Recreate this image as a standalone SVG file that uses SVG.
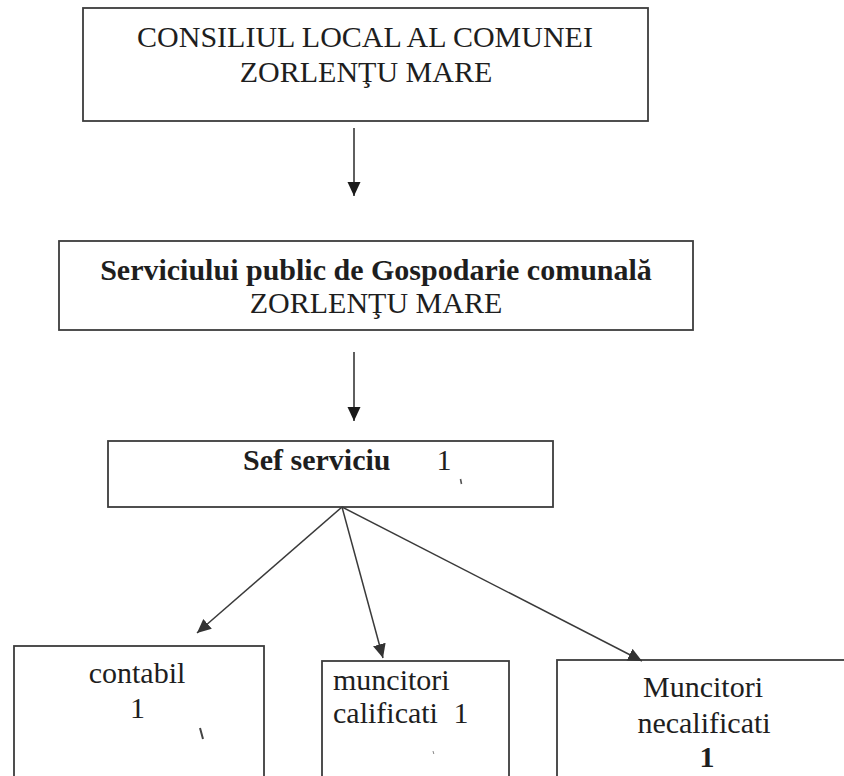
<svg xmlns="http://www.w3.org/2000/svg" width="844" height="776" viewBox="0 0 844 776">
<defs>
<style>
.box{fill:#fff;stroke:#3c3c3c;stroke-width:1.8}
.t{font-family:"Liberation Serif","Times New Roman",serif;font-size:30px;fill:#1e1e1e}
.b{font-weight:bold}
.m{text-anchor:middle}
.conn{stroke:#2a2a2a;stroke-width:1.5;fill:none}
.fine{stroke:#3a3a3a;stroke-width:1.5;fill:none}
</style>
<marker id="ah" markerUnits="userSpaceOnUse" markerWidth="15" markerHeight="14" refX="14" refY="6.5" orient="auto">
<path d="M0,0 L14,6.5 L0,13 z" fill="#1a1a1a"/>
</marker>
<marker id="ah2" markerUnits="userSpaceOnUse" markerWidth="15" markerHeight="14" refX="14" refY="6.5" orient="auto">
<path d="M0,0 L14,6.5 L0,13 z" fill="#333"/>
</marker>
</defs>
<rect width="844" height="776" fill="#fff"/>
<g id="consiliul">
<rect class="box" x="83" y="8" width="565" height="113"/>
<text class="t m" x="365" y="47">CONSILIUL LOCAL AL COMUNEI</text>
<text class="t m" x="366" y="82">ZORLENŢU MARE</text>
</g>
<g id="serviciul">
<rect class="box" x="59" y="241" width="634" height="89"/>
<text class="t m b" x="376" y="280">Serviciului public de Gospodarie comunală</text>
<text class="t m" x="376" y="313">ZORLENŢU MARE</text>
</g>
<g id="sef">
<rect class="box" x="108" y="441" width="445" height="66"/>
<text class="t b" x="243" y="470">Sef serviciu</text>
<text class="t m" x="444" y="470">1</text>
<path d="M460.5,479 l1,5" stroke="#555" stroke-width="1.6"/>
</g>
<g id="contabil">
<rect class="box" x="14" y="646" width="250" height="140"/>
<text class="t m" x="137" y="683">contabil</text>
<text class="t m" x="137.5" y="718">1</text>
<path d="M200,728 l3,11" stroke="#444" stroke-width="2"/>
</g>
<g id="calificati">
<rect class="box" x="322" y="661" width="187" height="125"/>
<text class="t" x="333" y="690">muncitori</text>
<text class="t" x="333" y="723" style="word-spacing:8px">calificati 1</text>
<path d="M433,751 l0.8,3" stroke="#888" stroke-width="1"/>
</g>
<g id="necalificati">
<rect class="box" x="557" y="660" width="300" height="126"/>
<text class="t m" x="703" y="697">Muncitori</text>
<text class="t m" x="704" y="733">necalificati</text>
<text class="t m b" x="707" y="767">1</text>
</g>
<g id="connectors">
<line class="conn" x1="354" y1="128" x2="354" y2="196" marker-end="url(#ah)"/>
<line class="conn" x1="354" y1="352" x2="354" y2="421" marker-end="url(#ah)"/>
<line class="fine" x1="342" y1="507" x2="197" y2="633" marker-end="url(#ah2)"/>
<line class="fine" x1="342" y1="507" x2="383" y2="658" marker-end="url(#ah2)"/>
<line class="fine" x1="342" y1="507" x2="642" y2="661" marker-end="url(#ah2)"/>
</g>
</svg>
